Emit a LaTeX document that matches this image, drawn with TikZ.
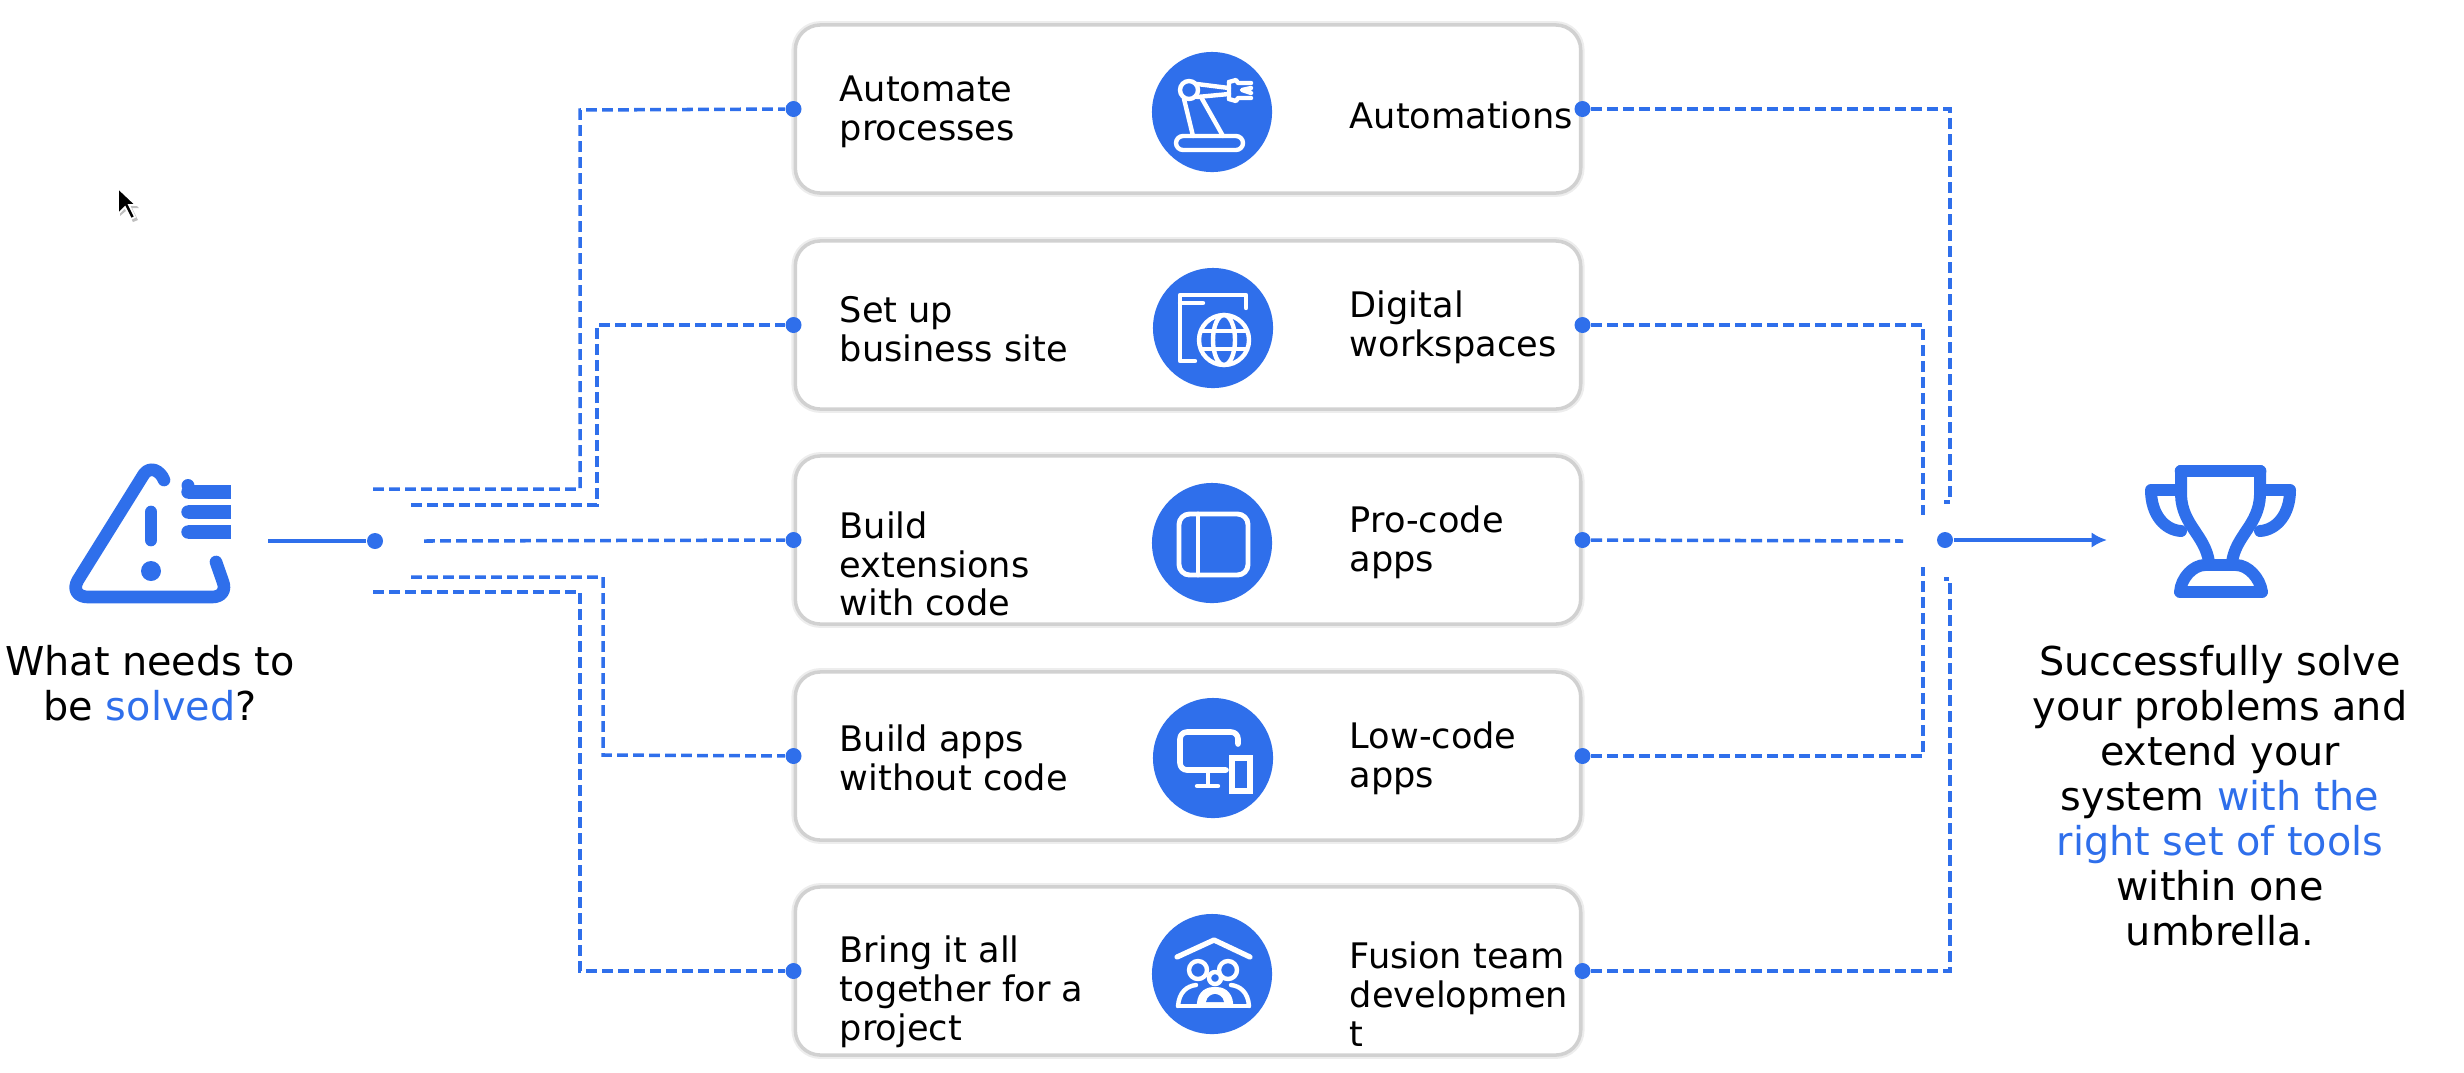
\documentclass[tikz,border=0pt]{standalone}
\usepackage{fontspec}
\setmainfont{DejaVu Sans}
\usetikzlibrary{arrows.meta}
\definecolor{toolblue}{RGB}{47,111,235}

\begin{document}
\begin{tikzpicture}[x=0.01cm,y=-0.01cm,>={Latex[length=4.4pt,width=4.4pt]},
  card/.style={draw=black!18,line width=1pt,fill=white,rounded corners=0.25cm,minimum width=7.85cm,minimum height=1.68cm,inner sep=0pt,preaction={draw=black!7,line width=2.2pt}},
  cardtext/.style={anchor=west,align=left,inner sep=0pt,font=\fontsize{10}{11.05}\selectfont},
  bigtext/.style={align=center,inner sep=0pt,font=\fontsize{11.3}{12.8}\selectfont},
  disc/.style={circle,fill=toolblue,minimum size=1.2cm,inner sep=0pt},
  dot/.style={circle,fill=toolblue,minimum size=0.16cm,inner sep=0pt},
  dashline/.style={toolblue,line width=1pt,dash pattern=on 3.1pt off 1.45pt},
  solidline/.style={toolblue,line width=1pt},
  whiteicon/.style={white,line width=1.25pt,line cap=round,line join=round},
  blueicon/.style={toolblue,line width=3.6pt,line cap=round,line join=round}]
\useasboundingbox (0,0) rectangle (2464,1072);
\def\cL{839}\def\cR{1349}
\def\colIn{580}\def\colInB{597}\def\colInC{603}
\def\colOut{1950}\def\colOutB{1923}

\fill[black!25] (120,191)--(120,216)--(127,210)--(133,222)--(138,220)--(132,208)--(139,208)--cycle;
\draw[white,fill=black,line width=0.5pt] (118,188)--(118,214)--(125,207)--(131,219)--(135,217)--(129,205)--(136,205)--cycle;

\node[card] (cardA) at (1188,109) {};
\node[card] (cardB) at (1188,325) {};
\node[card] (cardC) at (1188,540) {};
\node[card] (cardD) at (1188,756) {};
\node[card] (cardE) at (1188,971) {};

\node[disc] (discA) at (1212,112) {};
\node[disc] (discB) at (1213,328) {};
\node[disc] (discC) at (1212,543) {};
\node[disc] (discD) at (1213,758) {};
\node[disc] (discE) at (1212,974) {};

\node[cardtext] (wantA) at (\cL,112) {Automate\\processes};
\node[cardtext] (wantB) at (\cL,329) {Set up\\business site};
\node[cardtext] (wantC) at (\cL,564) {Build\\extensions\\with code};
\node[cardtext] (wantD) at (\cL,758) {Build apps\\without code};
\node[cardtext] (wantE) at (\cL,992) {Bring it all\\together for a\\project};
\node[cardtext] (toolA) at (\cR,115) {Automations};
\node[cardtext] (toolB) at (\cR,327) {Digital\\workspaces};
\node[cardtext] (toolC) at (\cR,542) {Pro-code\\apps};
\node[cardtext] (toolD) at (\cR,758) {Low-code\\apps};
\node[cardtext] (toolE) at (\cR,994) {Fusion team\\developmen\\t};

\node[bigtext] (question) at (150,683) {What needs to\\be \textcolor{toolblue}{solved}?};
\node[bigtext] (result) at (2220,796) {Successfully solve\\your problems and\\extend your\\system \textcolor{toolblue}{with the}\\\textcolor{toolblue}{right set of tools}\\within one\\umbrella.};

\node[dot] (inA) at (cardA.west) {};
\node[dot] (inB) at (cardB.west) {};
\node[dot] (inC) at (cardC.west) {};
\node[dot] (inD) at (cardD.west) {};
\node[dot] (inE) at (cardE.west) {};
\node[dot] (outA) at (cardA.east) {};
\node[dot] (outB) at (cardB.east) {};
\node[dot] (outC) at (cardC.east) {};
\node[dot] (outD) at (cardD.east) {};
\node[dot] (outE) at (cardE.east) {};
\node[dot] (hubIn) at (375,541) {};
\node[dot] (hubOut) at (1945,540) {};

\coordinate (lineStart) at (268,541);
\coordinate (arrowEnd) at (2107,540);
\coordinate (stubA) at (373,489);
\coordinate (stubB) at (411,505);
\coordinate (stubC) at (424,541);
\coordinate (stubD) at (411,577);
\coordinate (stubE) at (373,592);
\coordinate (bendA) at (\colIn,110);
\coordinate (bendB) at (\colInB,325);
\coordinate (bendD) at (\colInC,755);
\coordinate (bendE) at (\colIn,971);
\coordinate (endA) at (\colOut,502);
\coordinate (endB) at (\colOutB,515);
\coordinate (endC) at (1903,541);
\coordinate (endD) at (\colOutB,567);
\coordinate (endE) at (\colOut,579);
\coordinate (tipA) at (1944,502);
\coordinate (tipE) at (1944,579);

\draw[solidline] (lineStart)--(hubIn);
\draw[solidline,->] (hubOut)--(arrowEnd);
\draw[dashline] (stubA) -| (bendA) -- (inA);
\draw[dashline] (stubB) -| (bendB) -- (inB);
\draw[dashline] (stubC) -- (inC);
\draw[dashline] (stubD) -| (bendD) -- (inD);
\draw[dashline] (stubE) -| (bendE) -- (inE);
\draw[dashline] (outA) -| (endA) -- (tipA);
\draw[dashline] (outB) -| (endB);
\draw[dashline] (outC) -- (endC);
\draw[dashline] (outD) -| (endD);
\draw[dashline] (outE) -| (endE) -- (tipE);

\begin{scope}[shift={(discA.center)}]
\draw[whiteicon] (-23,-22) circle (9);
\draw[whiteicon] (-15,-28)--(17,-24) (-15,-15)--(17,-18);
\draw[whiteicon] (-28,-13)--(-19,24) (-11,-15)--(11,24);
\draw[whiteicon,rounded corners=2pt] (-36,24) rectangle (31,38);
\draw[whiteicon] (17,-30)--(24,-32)--(26,-29)--(39,-29) (17,-13)--(24,-11)--(26,-14)--(39,-14);
\draw[whiteicon] (17,-30)--(17,-13) (39,-24)--(30,-22)--(39,-19);
\end{scope}

\begin{scope}[shift={(discB.center)}]
\draw[whiteicon] (-18,33)--(-33,33)--(-33,-33)--(33,-33)--(33,-20);
\draw[whiteicon] (-33,-25)--(-10,-25);
\draw[whiteicon] (11,12) circle (25);
\draw[whiteicon] (11,12) ellipse (11 and 25);
\draw[whiteicon] (-12,3)--(34,3) (-12,21)--(34,21);
\end{scope}

\begin{scope}[shift={(discC.center)}]
\draw[whiteicon,line width=1.4pt,rounded corners=3pt] (-33,-29) rectangle (36,32);
\draw[whiteicon,line width=1.4pt] (-14,-29)--(-14,32);
\end{scope}

\begin{scope}[shift={(discD.center)}]
\draw[whiteicon,line width=1.6pt,rounded corners=2pt] (25,-14)--(25,-26)--(-33,-26)--(-33,12)--(13,12);
\draw[whiteicon] (-5,12)--(-5,27) (-16,28)--(5,28);
\draw[whiteicon,line join=miter,line width=1.6pt] (19,0) rectangle (37,33);
\end{scope}

\begin{scope}[shift={(discE.center)}]
\draw[whiteicon,line width=1.5pt] (-35,-17)--(2,-34)--(38,-17);
\draw[whiteicon] (-14,-4) circle (9) (16,-4) circle (9);
\draw[whiteicon] (3,4) circle (6);
\draw[whiteicon] (-34,32) .. controls (-33,18) and (-25,12) .. (-16,11);
\draw[whiteicon] (37,32) .. controls (36,18) and (28,12) .. (19,11);
\draw[whiteicon] (-34,32)--(37,32);
\draw[whiteicon,fill=white] (-13,30) .. controls (-12,18) and (-4,15) .. (3,15) .. controls (10,15) and (18,18) .. (19,30) -- cycle;
\fill[toolblue] (-6,28) .. controls (-5,22) and (0,20) .. (3,20) .. controls (6,20) and (11,22) .. (12,28) -- cycle;
\end{scope}

\draw[blueicon] (164,480) .. controls (160,470) and (150,466) .. (144,474)--(78,580) .. controls (72,590) and (78,597) .. (88,597)--(212,597) .. controls (222,597) and (226,590) .. (223,582)--(216,562);
\draw[blueicon] (151,512)--(151,540);
\fill[toolblue] (151,571) circle (10);
\draw[blueicon,line cap=butt,line width=3.8pt] (188,492)--(231,492) (188,512)--(231,512) (188,532)--(231,532);
\fill[toolblue] (188,485.5) circle (6.5) (188,505.5) circle (0) ;
\fill[toolblue] (188,492) circle (6.7) (188,512) circle (6.7) (188,532) circle (6.7);

\draw[blueicon] (2181,471)--(2260,471);
\draw[blueicon,line width=3.4pt] (2181,471)--(2181,495) .. controls (2182,525) and (2205,535) .. (2209,562);
\draw[blueicon,line width=3.4pt] (2260,471)--(2260,495) .. controls (2259,525) and (2236,535) .. (2232,562);
\draw[blueicon,line width=3.4pt] (2178,490)--(2151,490) .. controls (2151,515) and (2165,530) .. (2181,531);
\draw[blueicon,line width=3.4pt] (2263,490)--(2290,490) .. controls (2290,515) and (2276,530) .. (2260,531);
\draw[blueicon,line width=3.4pt] (2180,592)--(2262,592) .. controls (2260,578) and (2248,565) .. (2236,565)--(2205,565) .. controls (2193,565) and (2181,578) .. (2180,592)--cycle;
\end{tikzpicture}
\end{document}
